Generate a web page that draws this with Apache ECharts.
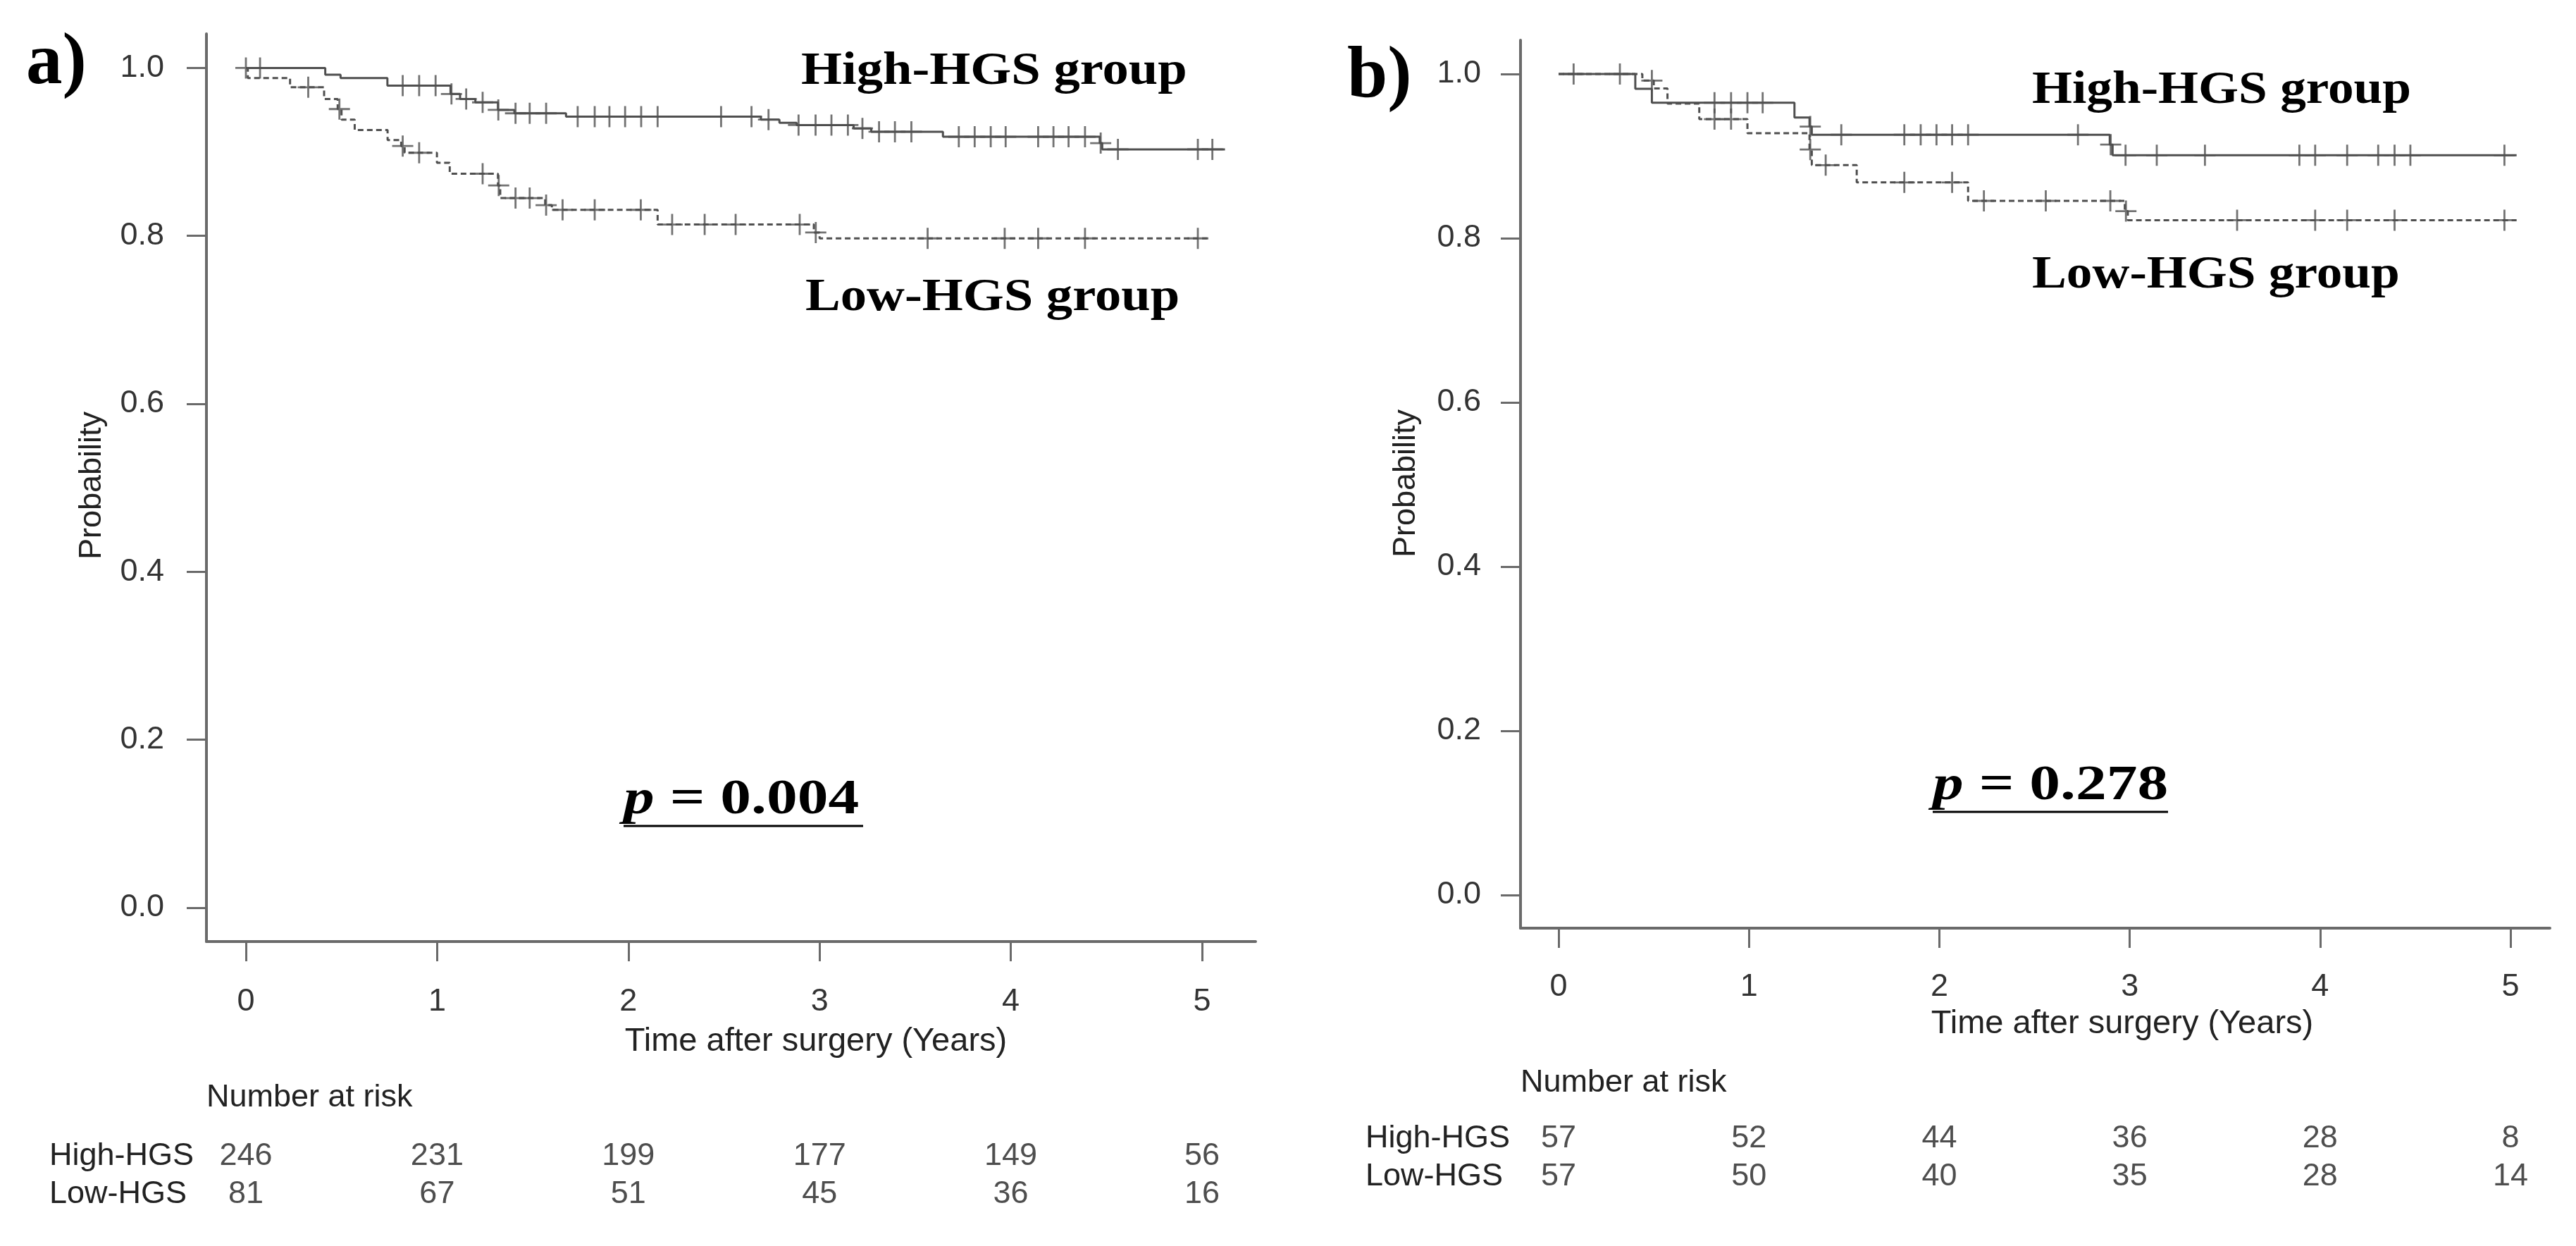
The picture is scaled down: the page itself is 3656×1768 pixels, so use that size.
<!DOCTYPE html>
<html><head><meta charset="utf-8">
<script src="https://cdn.jsdelivr.net/npm/echarts@6/dist/echarts.min.js"></script>
<style>html,body{margin:0;padding:0;background:#fff}#c{width:3656px;height:1768px}</style>
</head><body><div id="c"></div>
<script>
// ---------- data ----------
const timeTicks = [0, 1, 2, 3, 4, 5];
const probTicks = [0, 0.2, 0.4, 0.6, 0.8, 1.0];
const riskRows = ['High-HGS', 'Low-HGS'];
const riskTimes = [0, 1, 2, 3, 4, 5];

// Panel a) Kaplan-Meier steps [time, survival after event]
const aHighSteps = [[0,1.0],[0.415,0.992],[0.495,0.988],[0.74,0.979],[1.07,0.969],[1.12,0.963],[1.20,0.959],[1.318,0.950],[1.404,0.946],[1.674,0.942],[2.693,0.9385],[2.79,0.9346],[2.88,0.932],[3.178,0.928],[3.27,0.924],[3.645,0.918],[4.465,0.9105],[4.478,0.903],[5.12,0.903]];
const aHighCensor = [0.0,0.074,0.82,0.906,0.992,1.075,1.152,1.238,1.32,1.41,1.484,1.57,1.735,1.824,1.901,1.983,2.067,2.153,2.485,2.644,2.733,2.89,2.979,3.062,3.148,3.224,3.311,3.394,3.48,3.728,3.811,3.895,3.973,4.143,4.223,4.302,4.388,4.47,4.56,4.978,5.054];
const aLowSteps = [[0,1.0],[0.01,0.988],[0.231,0.977],[0.409,0.963],[0.48,0.951],[0.50,0.9385],[0.569,0.926],[0.741,0.914],[0.812,0.907],[0.83,0.899],[0.999,0.887],[1.066,0.874],[1.318,0.860],[1.33,0.845],[1.565,0.8366],[1.60,0.831],[2.153,0.8135],[2.97,0.804],[3.0,0.797],[5.027,0.797]];
const aLowCensor = [0.326,0.489,0.82,0.906,1.238,1.322,1.41,1.484,1.57,1.656,1.824,2.065,2.229,2.399,2.561,2.896,2.98,3.565,3.968,4.143,4.388,4.978];
const aRiskHigh = [246, 231, 199, 177, 149, 56];
const aRiskLow = [81, 67, 51, 45, 36, 16];
const aPValue = '0.004';

// Panel b)
const bHighSteps = [[0,1.0],[0.403,0.982],[0.49,0.965],[1.239,0.947],[1.318,0.936],[1.33,0.926],[2.895,0.914],[2.91,0.901],[5.032,0.901]];
const bHighCensor = [0.079,0.322,0.819,0.906,0.992,1.072,1.322,1.485,1.816,1.902,1.985,2.067,2.151,2.728,2.90,2.978,3.142,3.395,3.891,3.974,4.142,4.305,4.391,4.474,4.968];
const bLowSteps = [[0,1.0],[0.44,0.992],[0.50,0.9825],[0.572,0.964],[0.739,0.945],[0.992,0.928],[1.318,0.908],[1.33,0.889],[1.566,0.868],[2.151,0.8455],[2.974,0.833],[2.99,0.822],[5.032,0.822]];
const bLowCensor = [0.49,0.819,0.906,1.322,1.403,1.816,2.067,2.234,2.559,2.898,2.98,3.564,3.974,4.142,4.391,4.968];
const bRiskHigh = [57, 52, 44, 36, 28, 8];
const bRiskLow = [57, 50, 40, 35, 28, 14];
const bPValue = '0.278';

// ---------- helpers ----------
const SANS = '"Liberation Sans", Arial, sans-serif';
const SERIF = '"Liberation Serif", "Times New Roman", serif';
const AXC = '#6a6a6a';
const CURVE = '#4f4f4f';
const PLUS = 'path://M-1.4,-15h2.8v13.6h13.6v2.8h-13.6v13.6h-2.8v-13.6h-13.6v-2.8h13.6z';

function levelAt(steps, t) {
  let v = steps[0][1];
  for (const s of steps) { if (s[0] <= t) v = s[1]; }
  return v;
}

function mainX(gi, min, max, margin) {
  return { type: 'value', gridIndex: gi, min, max,
    axisLine: { onZero: false, lineStyle: { color: AXC, width: 4 } },
    axisTick: { customValues: timeTicks, length: 28, lineStyle: { color: AXC, width: 3 } },
    axisLabel: { customValues: timeTicks, margin, fontSize: 45, color: '#333', fontFamily: SANS, formatter: v => String(v) },
    splitLine: { show: false } };
}
function mainY(gi, min, max, margin) {
  return { type: 'value', gridIndex: gi, min, max,
    axisLine: { show: true, onZero: false, lineStyle: { color: AXC, width: 4 } },
    axisTick: { show: true, customValues: probTicks, length: 28, lineStyle: { color: AXC, width: 3 } },
    axisLabel: { customValues: probTicks, margin, fontSize: 45, color: '#333', fontFamily: SANS, formatter: v => v.toFixed(1) },
    splitLine: { show: false } };
}
function riskX(gi, min, max) {
  return { type: 'value', gridIndex: gi, min, max, show: false };
}
function riskY(gi, margin) {
  return { type: 'category', gridIndex: gi, data: riskRows, inverse: true,
    axisLine: { show: false }, axisTick: { show: false }, splitLine: { show: false },
    axisLabel: { interval: 0, hideOverlap: false, align: 'left', margin, fontSize: 45, color: '#222', fontFamily: SANS } };
}
function curve(xi, steps, dashed) {
  return { type: 'line', xAxisIndex: xi, yAxisIndex: xi, step: 'end', data: steps, symbol: 'none', silent: true,
    lineStyle: { color: CURVE, width: 3, type: dashed ? [8, 5] : 'solid' }, z: 3 };
}
function censor(xi, steps, times) {
  return { type: 'scatter', xAxisIndex: xi, yAxisIndex: xi, symbol: PLUS, symbolSize: 30, silent: true,
    itemStyle: { color: CURVE }, data: times.map(t => [t, levelAt(steps, t)]), z: 4 };
}
function risk(xi, high, low) {
  const data = [];
  riskTimes.forEach((t, i) => { data.push([t, 0, high[i]]); data.push([t, 1, low[i]]); });
  return { type: 'scatter', xAxisIndex: xi, yAxisIndex: xi, symbolSize: 1, silent: true,
    itemStyle: { color: 'rgba(0,0,0,0)' }, data,
    label: { show: true, position: 'inside', formatter: p => String(p.value[2]), fontSize: 45, color: '#222', fontFamily: SANS } };
}
function serif(x, cy, text, size, sx) {
  return { type: 'text', x, y: cy, scaleX: sx, silent: true,
    style: { text, fontSize: size, fontFamily: SERIF, fontWeight: 'bold', fill: '#000',
      align: 'left', textAlign: 'left', verticalAlign: 'middle', textVerticalAlign: 'middle' } };
}
function sans(x, cy, text, size, align, rot) {
  return { type: 'text', x, y: cy, rotation: rot || 0, silent: true,
    style: { text, fontSize: size, fontFamily: SANS, fill: '#222',
      align, textAlign: align, verticalAlign: 'middle', textVerticalAlign: 'middle' } };
}
function pText(x, cy, val, size, sx) {
  return { type: 'text', x, y: cy, scaleX: sx, silent: true,
    style: { text: '{i|p} = ' + val, fontSize: size, fontFamily: SERIF, fontWeight: 'bold', fill: '#000',
      align: 'left', textAlign: 'left', verticalAlign: 'middle', textVerticalAlign: 'middle',
      rich: { i: { fontStyle: 'italic', fontWeight: 'bold', fontSize: size, fontFamily: SERIF, fill: '#000' } } } };
}
function uline(x1, x2, y) {
  return { type: 'line', silent: true, shape: { x1, y1: y, x2, y2: y }, style: { stroke: '#000', lineWidth: 3 } };
}

const option = {
  backgroundColor: '#fff',
  animation: false,
  grid: [
    { left: 293, top: 48, width: 1489, height: 1288 },
    { left: 293, top: 1614, width: 1489, height: 108 },
    { left: 2158, top: 57, width: 1461, height: 1260 },
    { left: 2158, top: 1589, width: 1461, height: 108 }
  ],
  xAxis: [
    mainX(0, -0.2063, 5.28, 63),
    riskX(1, -0.2063, 5.28),
    mainX(2, -0.1999, 5.207, 61),
    riskX(3, -0.1999, 5.207)
  ],
  yAxis: [
    mainY(0, -0.0403, 1.0406, 60),
    riskY(1, 223),
    mainY(2, -0.0403, 1.0412, 56),
    riskY(3, 220)
  ],
  series: [
    curve(0, aHighSteps, false), censor(0, aHighSteps, aHighCensor),
    curve(0, aLowSteps, true), censor(0, aLowSteps, aLowCensor),
    risk(1, aRiskHigh, aRiskLow),
    curve(2, bHighSteps, false), censor(2, bHighSteps, bHighCensor),
    curve(2, bLowSteps, true), censor(2, bLowSteps, bLowCensor),
    risk(3, bRiskHigh, bRiskLow)
  ],
  graphic: { elements: [
    serif(37, 91, 'a)', 103, 1.0),
    serif(1912, 110, 'b)', 103, 1.0),
    serif(1137, 102, 'High-HGS group', 66, 1.13),
    serif(1143, 423, 'Low-HGS group', 66, 1.13),
    serif(2884, 129, 'High-HGS group', 66, 1.11),
    serif(2884, 391, 'Low-HGS group', 66, 1.11),
    pText(885, 1136, aPValue, 70, 1.25), uline(885, 1225, 1172),
    pText(2743, 1116, bPValue, 70, 1.25), uline(2743, 3077, 1152),
    sans(293, 1558, 'Number at risk', 45, 'left'),
    sans(2158, 1537, 'Number at risk', 45, 'left'),
    sans(1158, 1478, 'Time after surgery (Years)', 47, 'center'),
    sans(3012, 1453, 'Time after surgery (Years)', 47, 'center'),
    sans(131, 689, 'Probability', 45, 'center', Math.PI / 2),
    sans(1996, 686, 'Probability', 45, 'center', Math.PI / 2)
  ] }
};
const chart = echarts.init(document.getElementById('c'), null, { renderer: 'canvas' });
chart.setOption(option);
</script></body></html>
